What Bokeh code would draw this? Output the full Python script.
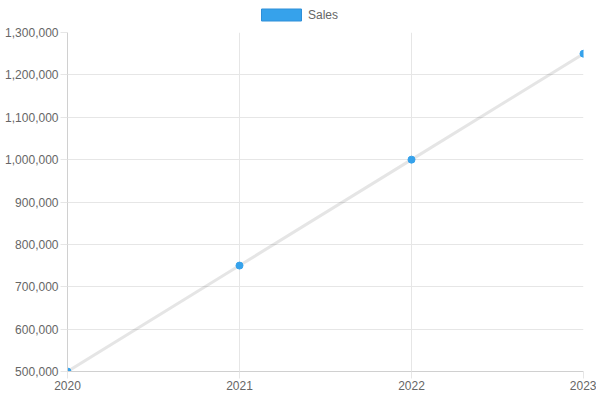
from bokeh.plotting import figure
from bokeh.layouts import column
from bokeh.models import ColumnDataSource, FixedTicker, NumeralTickFormatter, Legend, LegendItem, Range1d
from bokeh.embed import file_html
from bokeh.resources import INLINE

years = [2020, 2021, 2022, 2023]
sales = [500000, 750000, 1000000, 1250000]
y_ticks = [500000, 600000, 700000, 800000, 900000, 1000000, 1100000, 1200000, 1300000]
series_name = "Sales"

FONT = "Liberation Sans"
TXT = "#666666"
GRID = "#e6e6e6"
BLUE = "#36A2EB"

W = 596
HL = 24
H = 372
BL, BR, BT, BB = 67, 13, 8, 25

# legend strip
lf = figure(width=W, height=HL, output_backend="svg", toolbar_location=None,
            x_range=Range1d(0, 1), y_range=Range1d(0, 1),
            min_border_left=0, min_border_right=0, min_border_top=0, min_border_bottom=0)
lf.axis.visible = False
lf.grid.visible = False
lf.outline_line_color = None
hidden = ColumnDataSource(dict(x=[-10], y=[-10]))
dummy = lf.rect("x", "y", width=0.01, height=0.01, source=hidden,
                fill_color=BLUE, line_color="#2f8fd8", line_width=1)
legend = Legend(items=[LegendItem(label=series_name, renderers=[dummy])],
                orientation="horizontal", location=(189, 2),
                glyph_width=50, glyph_height=15, label_text_font=FONT,
                label_text_font_size="12px", label_text_color=TXT, label_height=12,
                padding=0, margin=0, spacing=0, label_standoff=2,
                border_line_color=None, background_fill_alpha=0)
lf.add_layout(legend)

# main chart
src = ColumnDataSource(dict(x=years, y=sales))
p = figure(width=W, height=H, output_backend="svg", toolbar_location=None,
           x_range=Range1d(2020, 2023), y_range=Range1d(500000, 1300000),
           min_border_left=BL, min_border_right=BR, min_border_top=BT, min_border_bottom=BB)
p.outline_line_color = None
p.background_fill_color = "white"

p.line("x", "y", source=src, line_color="black", line_alpha=0.1, line_width=3)
p.scatter("x", "y", source=src, size=7, fill_color=BLUE, line_color=BLUE)

p.xaxis.ticker = FixedTicker(ticks=years)
p.yaxis.ticker = FixedTicker(ticks=y_ticks)
p.yaxis.formatter = NumeralTickFormatter(format="0,0")

for ax in (p.xaxis[0], p.yaxis[0]):
    ax.axis_line_color = "#d0d0d0"
    ax.major_tick_line_color = GRID
    ax.major_tick_out = 7
    ax.major_tick_in = 0
    ax.minor_tick_out = 0
    ax.minor_tick_in = 0
    ax.major_label_text_font = FONT
    ax.major_label_text_font_size = "12px"
    ax.major_label_text_color = TXT
    ax.major_label_standoff = 2

p.xgrid.grid_line_color = GRID
p.ygrid.grid_line_color = GRID

layout = column(lf, p, spacing=0)
open("out.html", "w").write(file_html(layout, INLINE))
